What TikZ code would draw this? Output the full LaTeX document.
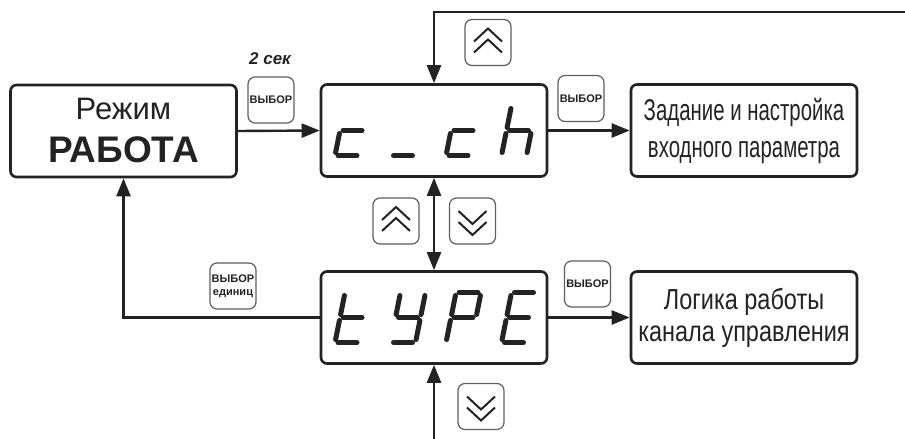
\documentclass[tikz,border=0pt]{standalone}
\usepackage{fontspec}
\setmainfont{Liberation Sans}
\newfontfamily\narrowfont{Liberation Sans}[FakeStretch=0.68]
\newfontfamily\halfnarrowfont{Liberation Sans}[FakeStretch=0.81]
\usetikzlibrary{arrows.meta,positioning,calc}
\definecolor{ink}{RGB}{35,35,35}
\definecolor{keyline}{RGB}{95,95,95}

\tikzset{
  seg/.style={draw=ink,line width=5pt,line cap=round},
  pics/segA/.style={code={\draw[seg] (3,-50)--(22,-50);}},
  pics/segB/.style={code={\draw[seg] (25,-47)--(25,-28);}},
  pics/segC/.style={code={\draw[seg] (25,-22)--(25,-3);}},
  pics/segD/.style={code={\draw[seg] (3,0)--(22,0);}},
  pics/segE/.style={code={\draw[seg] (0,-22)--(0,-3);}},
  pics/segF/.style={code={\draw[seg] (0,-47)--(0,-28);}},
  pics/segG/.style={code={\draw[seg] (3,-25)--(22,-25);}},
}

\begin{document}
\begin{tikzpicture}[x=1pt,y=-1pt,
   panel/.style={draw=ink,line width=2.6pt,rounded corners=6pt,fill=white,
     minimum width=226pt,minimum height=92pt,inner sep=0pt,align=center,text=ink},
   key/.style={draw=keyline,line width=1.2pt,rounded corners=7pt,fill=white,
     minimum width=46pt,minimum height=46pt,inner sep=0pt,align=center,
     text=ink,font=\bfseries\fontsize{11}{13}\selectfont},
   arr/.style={draw=ink,line width=2.4pt,-{Triangle[length=18pt,width=14pt]}},
   chev/.style={draw=ink,line width=2pt}]
  \useasboundingbox (0,0) rectangle (905,439);
  % boxes
  \node[panel,font=\fontsize{31}{43}\selectfont] (mode) at (123.5,131)
    {Режим\\{\fontsize{37}{43}\selectfont\bfseries РАБОТА}};
  \node[panel] (cch) at (434,130.5) {};
  \node[panel,font=\narrowfont\fontsize{30}{37}\selectfont] (setin) at (744,130.5)
    {Задание и настройка\\входного параметра};
  \node[panel] (type) at (434,317.5) {};
  \node[panel,font=\halfnarrowfont\fontsize{29}{32}\selectfont] (logic) at (744,317.5)
    {Логика работы\\канала управления};
  % seven segment digits
  \foreach \i/\segs in {0/{D,E,G},1/{D},2/{D,E,G},3/{C,E,F,G}}{
    \foreach \s in \segs {\pic[xslant=0.2] at (335+55.5*\i,155.5) {seg\s};}}
  \foreach \i/\segs in {0/{D,E,F,G},1/{B,C,D,F,G},2/{A,B,E,F,G},3/{A,D,E,F,G}}{
    \foreach \s in \segs {\pic[xslant=0.2] at (335+55.5*\i,342.5) {seg\s};}}
  % keys
  \node[key] (k1) at (271,100) {ВЫБОР};
  \node[key] (k2) at (581,98.5) {ВЫБОР};
  \node[key] (k3) at (587.5,284) {ВЫБОР};
  \node[key] (k4) at (233,286) {ВЫБОР\\единиц};
  \node[key] (up1) at (488,42.5) {};
  \node[key] (up2) at (396,221) {};
  \node[key] (dn1) at (472.5,221) {};
  \node[key] (dn2) at (481,406.5) {};
  \node[font=\bfseries\itshape\fontsize{17}{20}\selectfont,text=ink] (hold) at (270,59) {2 сек};
  \foreach \k in {up1,up2}{
    \draw[chev] (\k.center) ++(-14,-1) -- ++(14,-13) -- ++(14,13);
    \draw[chev] (\k.center) ++(-14,10) -- ++(14,-13) -- ++(14,13);}
  \foreach \k in {dn1,dn2}{
    \draw[chev] (\k.center) ++(-14,-10) -- ++(14,13) -- ++(14,-13);
    \draw[chev] (\k.center) ++(-14,1) -- ++(14,13) -- ++(14,-13);}
  % connectors
  \coordinate (topin) at (905,12);
  \coordinate (botin) at (434,439);
  \draw[arr] (mode.east) -- (cch.west);
  \draw[arr] (cch.east) -- (setin.west);
  \draw[arr] (type.east) -- (logic.west);
  \draw[arr] (topin) -| (cch.north);
  \draw[arr] (botin) -- (type.south);
  \draw[arr,{Triangle[length=18pt,width=14pt]}-{Triangle[length=18pt,width=14pt]}] (cch.south) -- (type.north);
  \draw[arr] (type.west) -| (mode.south);
\end{tikzpicture}
\end{document}
